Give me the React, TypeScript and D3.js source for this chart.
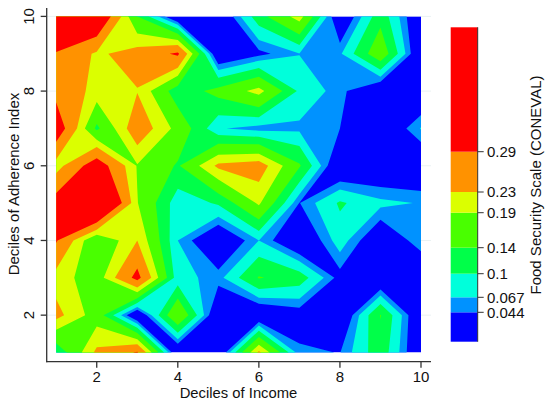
import React from 'react'
import * as d3 from 'd3'

// food security score on the decile grid, one array per adherence decile, income deciles 1..10
const adherence10 = [0.4, 0.37, 0.14, 0, 0, 0.122, 0.21, 0, 0.125, 0]
const adherence9 = [0.285, 0.222, 0.25, 0.3, 0, 0.035, 0.066, 0.062, 0.175, 0]
const adherence8 = [0.27, 0.215, 0.228, 0.113, 0.155, 0.205, 0.093, 0.053, 0, 0]
const adherence7 = [0.335, 0.13, 0.265, 0.175, 0.07, 0.055, 0.06, 0.044, 0, 0.069]
const adherence6 = [0.208, 0.33, 0.187, 0.135, 0.24, 0.255, 0.145, 0, 0.003, 0]
const adherence5 = [0.32, 0.45, 0.192, 0.078, 0.105, 0.197, 0.043, 0.105, 0.075, 0.065]
const adherence4 = [0.295, 0.142, 0.23, 0.067, 0, 0.067, 0, 0.083, 0.005, 0.062]
const adherence3 = [0.21, 0.165, 0.31, 0.078, 0.056, 0.143, 0.12, 0.032, 0, 0]
const adherence2 = [0.245, 0.168, 0, 0.19, 0, 0, 0.025, 0, 0.142, 0]
const adherence1 = [0.105, 0.24, 0.295, 0, 0, 0.24, 0.05, 0.043, 0.125, 0]

const levels = [0.044, 0.067, 0.1, 0.14, 0.19, 0.23, 0.29]
const levelLabels = ['0.044', '0.067', '0.1', '0.14', '0.19', '0.23', '0.29']
const bandColors = ['#0000ff', '#0092ff', '#00ffdb', '#00ff49', '#49ff00', '#dbff00', '#ff9200', '#ff0000']
const axisTicks = [2, 4, 6, 8, 10]

const grid = [
  ...adherence10, ...adherence9, ...adherence8, ...adherence7, ...adherence6,
  ...adherence5, ...adherence4, ...adherence3, ...adherence2, ...adherence1,
]

const x = d3.scaleLinear().domain([1, 10]).range([56.2, 421])
const y = d3.scaleLinear().domain([1, 10]).range([352.5, 16.4])

// colour bar is not linear in the value, so each level has its own stop
const barStops = [341.7, 312.3, 297.3, 273.7, 247.7, 212.7, 192, 151.7, 27.3]

// contour rings come in grid units, cell centre i + .5 is decile i + 1
const project = d3.geoTransform({
  point(px: number, py: number) {
    this.stream.point(x(px + 0.5), y(10.5 - py))
  },
})
const path = d3.geoPath(project)
const bands = d3.contours().size([10, 10]).thresholds(levels)(grid)

const font = '"Liberation Sans", Arial, sans-serif'
const axisColor = '#333'
const axisWidth = 1.3

export default function App() {
  const [x0, x1] = x.range()
  const [y0, y1] = y.range()

  return (
    <svg
      width={550}
      height={403}
      style={{ position: 'absolute', left: 0, top: 0, background: '#fff' }}
      fontFamily={font}
      fill="#111"
    >
      <defs>
        <clipPath id="plot">
          <rect x={x0} y={y1} width={x1 - x0} height={y0 - y1} />
        </clipPath>
      </defs>

      {/* pale grid */}
      {axisTicks.map(t => (
        <line key={t} x1={46.7} x2={431} y1={y(t)} y2={y(t)} stroke="#eaf2f3" />
      ))}

      <g clipPath="url(#plot)">
        <rect x={x0} y={y1} width={x1 - x0} height={y0 - y1} fill={bandColors[0]} />
        {bands.map((b, i) => (
          <path key={i} d={path(b as any) || ''} fill={bandColors[i + 1]} />
        ))}
      </g>

      {/* left axis */}
      <line x1={46.7} x2={46.7} y1={8} y2={362.3} stroke={axisColor} strokeWidth={axisWidth} />
      {axisTicks.map(t => (
        <g key={t} transform={`translate(46.7,${y(t)})`}>
          <line x1={-6} x2={0} stroke={axisColor} strokeWidth={axisWidth} />
          <text transform="translate(-13,0) rotate(-90)" textAnchor="middle" fontSize={15}>{t}</text>
        </g>
      ))}
      <text transform="translate(18.5,184) rotate(-90)" textAnchor="middle" fontSize={15}>Deciles of Adherence Index</text>

      {/* bottom axis */}
      <line x1={46.2} x2={431} y1={361.7} y2={361.7} stroke={axisColor} strokeWidth={axisWidth} />
      {axisTicks.map(t => (
        <g key={t} transform={`translate(${x(t)},361.7)`}>
          <line y1={0} y2={6} stroke={axisColor} strokeWidth={axisWidth} />
          <text y={20.5} textAnchor="middle" fontSize={15}>{t}</text>
        </g>
      ))}
      <text x={238.5} y={397.5} textAnchor="middle" fontSize={14.8}>Deciles of Income</text>

      {/* colour bar */}
      {bandColors.map((c, i) => (
        <rect key={c} x={450.7} width={27} y={barStops[i + 1]} height={barStops[i] - barStops[i + 1]} fill={c} />
      ))}
      <line x1={477.7} x2={477.7} y1={27.3} y2={341.7} stroke={axisColor} />
      {levels.map((l, i) => (
        <g key={l} transform={`translate(477.7,${barStops[i + 1]})`}>
          <line x1={0} x2={6} stroke={axisColor} />
          <text x={9.3} y={5.3} fontSize={15}>{levelLabels[i]}</text>
        </g>
      ))}
      <text transform="translate(541,185) rotate(-90)" textAnchor="middle" fontSize={15}>Food Security Scale (CONEVAL)</text>
    </svg>
  )
}
